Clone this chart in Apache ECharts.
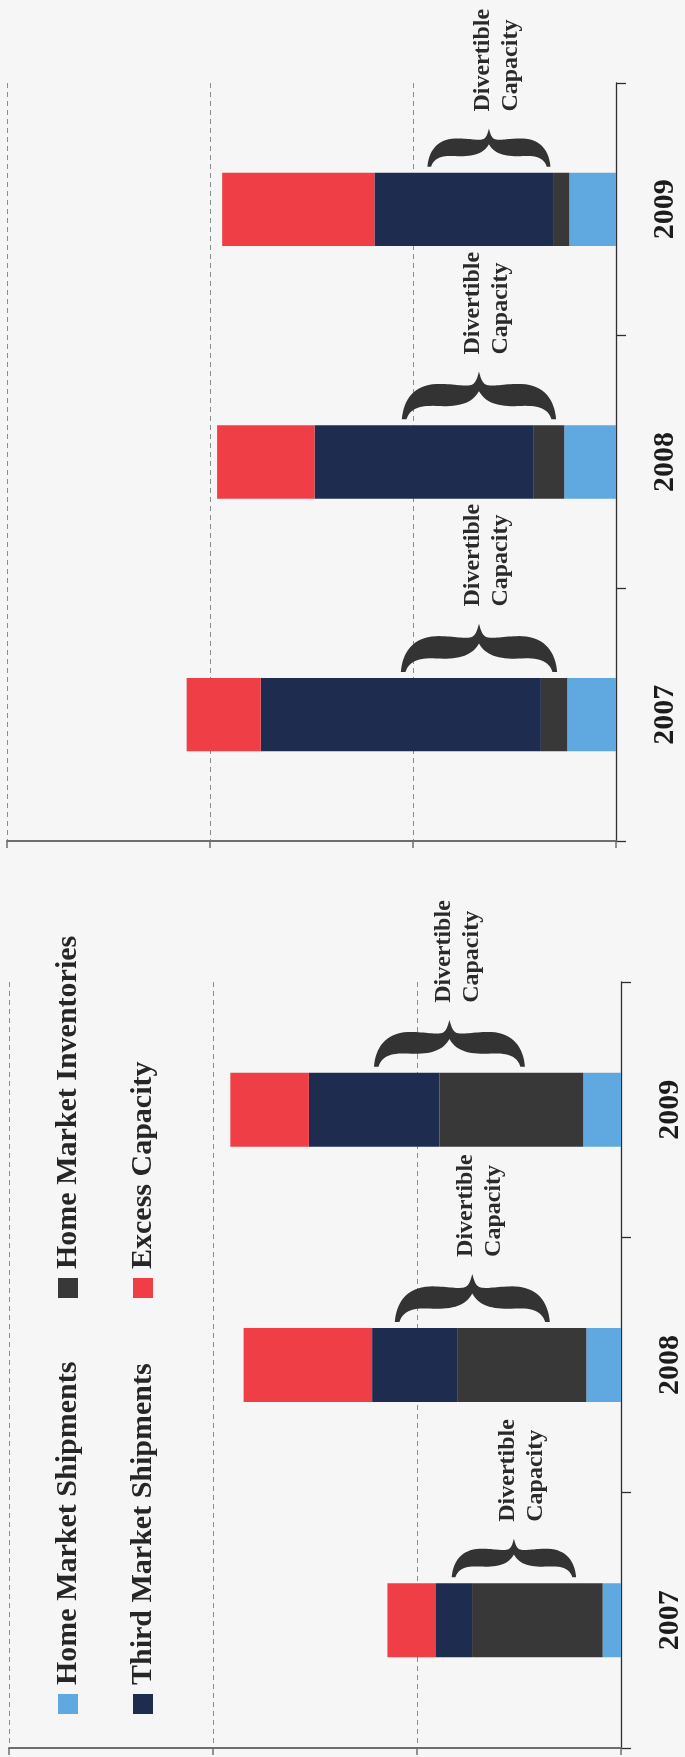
<!DOCTYPE html>
<html>
<head>
<meta charset="utf-8">
<script src="https://cdn.jsdelivr.net/npm/echarts@6/dist/echarts.min.js"></script>
<style>
  html, body { margin: 0; padding: 0; background: #f6f6f6; }
  #chart { width: 685px; height: 1757px; }
</style>
</head>
<body>
<div id="chart"></div>
<script>
// ---- data ----
const years = ['2007', '2008', '2009'];
const seriesNames = ['Home Market Shipments', 'Home Market Inventories', 'Third Market Shipments', 'Excess Capacity'];
const seriesColors = ['#5fa8e0', '#383838', '#1e2c50', '#ef3e46'];

// upper panel
const upperHome = [24, 25.5, 23];
const upperInventories = [13, 15, 8];
const upperThird = [138, 108, 88];
const upperExcess = [36.5, 48, 75];

// lower panel
const lowerHome = [9, 17, 18.5];
const lowerInventories = [64, 63, 70.5];
const lowerThird = [18, 42, 64];
const lowerExcess = [23.5, 63, 38.5];

// value axis ticks (no labels are drawn)
const valueMin = 0;
const valueMax = 300;
const valueStep = 100;

// "Divertible Capacity" braces: centre value and span along the value axis, per year
const upperBraceCentre = [67.5, 67.5, 62.6];
const upperBraceSpan = [77, 76, 60.6];
const lowerBraceCentre = [52.5, 72.9, 84.1];
const lowerBraceSpan = [61, 76, 74];
const braceLabel = 'Divertible\nCapacity';

// ---- drawing helpers ----
const BAR_FRACTION = 0.29;
const SERIF = '"Liberation Serif", "Times New Roman", serif';

// brace outline in unit space: x in [-1, 1], y in [-1, 0] (0 = ends, -1 = tip)
const BRACE_START = [-1, 0];
const BRACE_SEGMENTS = [
  // upper edge, left arm -> tip
  [[-0.98, -0.4], [-0.85, -0.72], [-0.55, -0.74]],
  [[-0.35, -0.75], [-0.2, -0.68], [-0.1, -0.72]],
  [[-0.04, -0.75], [-0.02, -0.88], [0, -1]],
  // upper edge, tip -> right arm
  [[0.02, -0.88], [0.04, -0.75], [0.1, -0.72]],
  [[0.2, -0.68], [0.35, -0.75], [0.55, -0.74]],
  [[0.85, -0.72], [0.98, -0.4], [1, 0]],
  // right end
  [[0.98, 0], [0.96, 0], [0.94, 0]],
  // lower edge, right arm -> notch
  [[0.9, -0.2], [0.8, -0.3], [0.55, -0.28]],
  [[0.3, -0.26], [0.1, -0.3], [0, -0.59]],
  // lower edge, notch -> left arm
  [[-0.1, -0.3], [-0.3, -0.26], [-0.55, -0.28]],
  [[-0.8, -0.3], [-0.9, -0.2], [-0.94, 0]]
];

function bracePoints(cx, baseY, halfLen, depth) {
  const pts = [];
  let p0 = BRACE_START;
  const map = p => [cx + p[0] * halfLen, baseY + p[1] * depth];
  pts.push(map(p0));
  BRACE_SEGMENTS.forEach(seg => {
    const [p1, p2, p3] = seg;
    for (let i = 1; i <= 16; i++) {
      const t = i / 16, m = 1 - t;
      const x = m * m * m * p0[0] + 3 * m * m * t * p1[0] + 3 * m * t * t * p2[0] + t * t * t * p3[0];
      const y = m * m * m * p0[1] + 3 * m * m * t * p1[1] + 3 * m * t * t * p2[1] + t * t * t * p3[1];
      pts.push(map([x, y]));
    }
    p0 = p3;
  });
  return pts;
}

function renderBrace(params, api) {
  const centre = api.value(0);
  const cat = api.value(1);
  const span = api.value(2);
  const c = api.coord([centre, cat]);
  const a = api.coord([centre - span / 2, cat]);
  const b = api.coord([centre + span / 2, cat]);
  const halfLen = Math.abs(a[0] - b[0]) / 2;
  const band = api.size([0, 1])[1];
  const baseY = c[1] - band * BAR_FRACTION / 2 - 6;
  const depth = 0.31 * halfLen * 2;
  return {
    type: 'group',
    children: [
      {
        type: 'polygon',
        shape: { points: bracePoints(c[0], baseY, halfLen, depth) },
        style: { fill: '#333333' }
      },
      {
        type: 'text',
        x: c[0] + 8,
        y: baseY - depth - 17,
        rotation: Math.PI / 2,
        style: {
          text: braceLabel,
          font: 'bold 24px ' + SERIF,
          fill: '#2a2a2a',
          align: 'left',
          verticalAlign: 'middle',
          lineHeight: 28
        }
      }
    ]
  };
}

function barSeries(gi, values) {
  return seriesNames.map((name, k) => ({
    name: name,
    type: 'bar',
    xAxisIndex: gi,
    yAxisIndex: gi,
    stack: 'panel' + gi,
    barWidth: (BAR_FRACTION * 100) + '%',
    data: values[k],
    itemStyle: { color: seriesColors[k] },
    emphasis: { disabled: true }
  }));
}

function braceSeries(gi, centres, spans) {
  return {
    type: 'custom',
    xAxisIndex: gi,
    yAxisIndex: gi,
    encode: { x: 0, y: 1 },
    data: centres.map((v, i) => [v, i, spans[i]]),
    renderItem: renderBrace,
    silent: true,
    z: 5
  };
}

function valueAxis(gi) {
  return {
    type: 'value', gridIndex: gi, inverse: true,
    min: valueMin, max: valueMax, interval: valueStep,
    axisLine: { show: true, lineStyle: { color: '#6e6e6e', width: 2 } },
    axisTick: { show: true, length: 7, lineStyle: { color: '#6e6e6e', width: 1.5 } },
    axisLabel: { show: false },
    splitLine: { show: true, lineStyle: { type: [5, 4], color: '#8c8c8c', width: 1 } }
  };
}

function categoryAxis(gi) {
  return {
    type: 'category', gridIndex: gi, data: years, position: 'right',
    axisLine: { show: true, lineStyle: { color: '#2e2e2e', width: 1.3 } },
    axisTick: { show: true, length: 10, lineStyle: { color: '#2e2e2e', width: 1.3 } },
    axisLabel: {
      rotate: 90, margin: 34,
      fontFamily: SERIF, fontWeight: 'bold', fontSize: 30, color: '#1c1c1c'
    },
    splitLine: { show: false }
  };
}

// legend drawn as rotated text beside coloured squares
const legendSlots = [
  { name: seriesNames[0], color: seriesColors[0], x: 58, y: 1694 },
  { name: seriesNames[2], color: seriesColors[2], x: 133, y: 1694 },
  { name: seriesNames[1], color: seriesColors[1], x: 58, y: 1278 },
  { name: seriesNames[3], color: seriesColors[3], x: 133, y: 1278 }
];
const legendGraphics = [];
legendSlots.forEach(s => {
  legendGraphics.push({
    type: 'rect', shape: { x: s.x, y: s.y, width: 20, height: 20 },
    style: { fill: s.color }
  });
  legendGraphics.push({
    type: 'text', x: s.x + 10, y: s.y - 9, rotation: Math.PI / 2,
    style: {
      text: s.name, font: 'bold 30px ' + SERIF, fill: '#262626',
      align: 'left', verticalAlign: 'middle'
    }
  });
});

const chart = echarts.init(document.getElementById('chart'));
chart.setOption({
  animation: false,
  backgroundColor: '#f6f6f6',
  grid: [
    { left: 7, right: 69, top: 83, bottom: 916 },
    { left: 9, right: 59, top: 982, bottom: 9 }
  ],
  xAxis: [valueAxis(0), valueAxis(1)],
  yAxis: [categoryAxis(0), categoryAxis(1)],
  graphic: { elements: legendGraphics },
  series: [
    ...barSeries(0, [upperHome, upperInventories, upperThird, upperExcess]),
    ...barSeries(1, [lowerHome, lowerInventories, lowerThird, lowerExcess]),
    braceSeries(0, upperBraceCentre, upperBraceSpan),
    braceSeries(1, lowerBraceCentre, lowerBraceSpan)
  ]
});
</script>
</body>
</html>
